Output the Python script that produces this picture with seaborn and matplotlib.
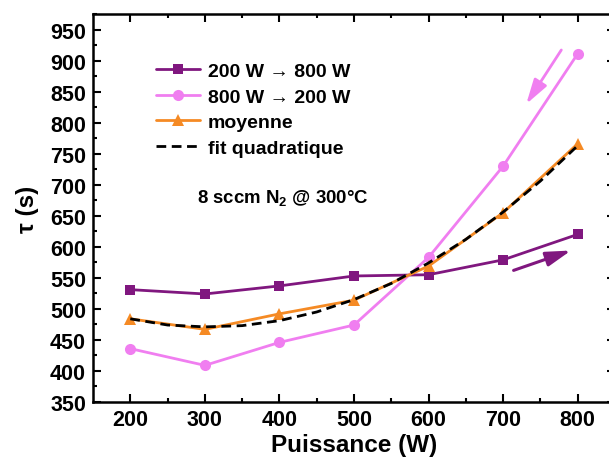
import matplotlib
matplotlib.use("Agg")
import matplotlib.pyplot as plt
import seaborn as sns
import numpy as np

puissance = [200, 300, 400, 500, 600, 700, 800]
tau_montee = [531, 524, 537, 553, 555, 579, 620]      # 200 W -> 800 W
tau_descente = [436, 409, 446, 474, 583, 730, 911]    # 800 W -> 200 W
tau_moyenne = [484, 467, 492, 514, 569, 655, 766]
fit_x = [200, 250, 300, 350, 400, 450, 500, 550, 600, 650, 700, 750, 800]
fit_y = [484, 474, 471, 473, 481, 495, 515, 541, 574, 612, 656, 706, 763]

labels = ["200 W \u2192 800 W", "800 W \u2192 200 W", "moyenne", "fit quadratique"]
colors = ["#80177F", "#F07EF0", "#F58A24", "#000000"]

sns.set_theme(style="ticks")
plt.rcParams["font.family"] = ["Liberation Sans", "DejaVu Sans"]
plt.rcParams["font.weight"] = "bold"
plt.rcParams["text.color"] = "black"
plt.rcParams["axes.labelcolor"] = "black"
plt.rcParams["xtick.color"] = "black"
plt.rcParams["ytick.color"] = "black"
plt.rcParams["mathtext.fontset"] = "custom"
plt.rcParams["mathtext.rm"] = "Liberation Sans:bold"
plt.rcParams["mathtext.bf"] = "Liberation Sans:bold"
plt.rcParams["mathtext.it"] = "Liberation Sans:bold"

fig = plt.figure(figsize=(6.09, 4.64), dpi=100)
ax = fig.add_axes([93/609, 61/464, 522/609, 388/464])

sns.lineplot(x=puissance, y=tau_montee, ax=ax, color=colors[0], marker="s",
             markersize=7, markeredgewidth=0, linewidth=2, label=labels[0])
sns.lineplot(x=puissance, y=tau_descente, ax=ax, color=colors[1], marker="o",
             markersize=8, markeredgewidth=0, linewidth=2, label=labels[1])
sns.lineplot(x=puissance, y=tau_moyenne, ax=ax, color=colors[2], marker="^",
             markersize=8, markeredgewidth=0, linewidth=2, label=labels[2])
sns.lineplot(x=fit_x, y=fit_y, ax=ax, color=colors[3], linestyle=(0, (3.5, 2)),
             linewidth=2, label=labels[3])

# direction arrows
arrow_style = "-|>,head_length=0.75,head_width=0.22"
ax.annotate("", xy=(731, 830), xytext=(778, 917),
            arrowprops=dict(arrowstyle=arrow_style, color=colors[1], lw=2,
                            mutation_scale=20, shrinkA=0, shrinkB=0))
ax.annotate("", xy=(791, 594), xytext=(714, 562),
            arrowprops=dict(arrowstyle=arrow_style, color=colors[0], lw=2.2,
                            mutation_scale=20, shrinkA=0, shrinkB=0))

ax.text(0.199, 0.528, "8 sccm N$_2$ @ 300\u00b0C", transform=ax.transAxes,
        fontsize=13.4, fontweight="bold", ha="left", va="center")

ax.set_xlim(150, 850)
ax.set_ylim(350, 975)
ax.set_xticks(puissance)
ax.set_xticks(np.arange(250, 850, 100), minor=True)
ax.set_yticks(np.arange(350, 951, 50))
ax.set_yticks(np.arange(375, 976, 50), minor=True)

ax.tick_params(which="both", direction="in", top=True, right=True, width=1.5, color="black")
ax.tick_params(which="major", length=6, labelsize=15.5, pad=5)
ax.tick_params(which="minor", length=3)
for lab in ax.get_xticklabels() + ax.get_yticklabels():
    lab.set_fontweight("bold")
for sp in ax.spines.values():
    sp.set_linewidth(1.8)
    sp.set_color("black")

ax.set_xlabel("Puissance (W)", fontsize=17.5, fontweight="bold", labelpad=2)
ax.set_ylabel("\u03c4 (s)", fontsize=17.5, fontweight="bold", labelpad=8)

leg = ax.legend(loc="upper left", bbox_to_anchor=(0.105, 0.896), frameon=False,
                fontsize=14, handlelength=2.3, handletextpad=0.4, labelspacing=0.42,
                borderaxespad=0)
for t in leg.get_texts():
    t.set_fontweight("bold")

fig.savefig("out.png", dpi=100)
